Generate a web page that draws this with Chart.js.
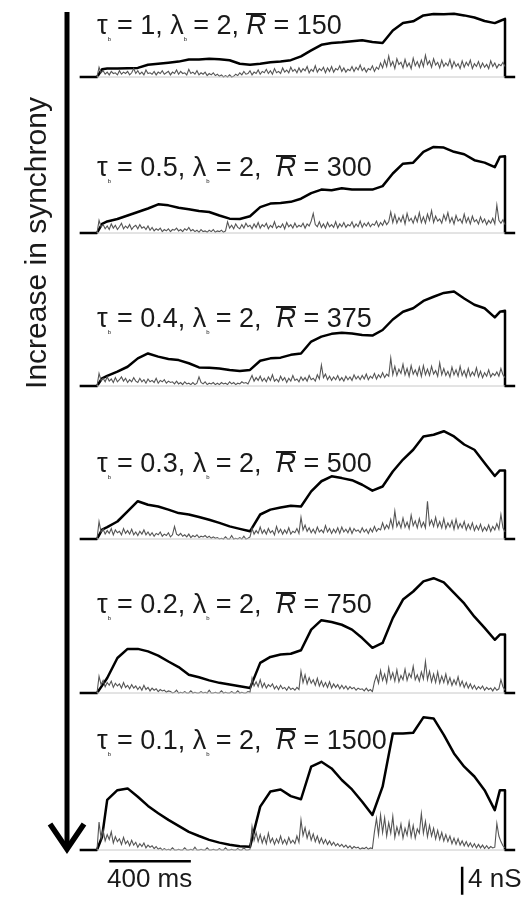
<!DOCTYPE html>
<html>
<head>
<meta charset="utf-8">
<script src="https://cdn.jsdelivr.net/npm/chart.js@4.4.1/dist/chart.umd.min.js"></script>
<style>
  body { margin: 0; background: #fff; }
  #page { position: relative; width: 530px; height: 897px; overflow: hidden; font-family: "Liberation Sans", Arial, sans-serif; color: #1a1a1a; }
  .panel { position: absolute; left: 0; width: 530px; height: 250px; }
  .lbl { position: absolute; left: 97px; font-size: 27px; line-height: 27px; white-space: nowrap; }
  .lbl sub { font-size: 6px; vertical-align: -7px; margin-right: 6px; }
  .rbar { display: inline-block; font-style: italic; border-top: 2.5px solid #1a1a1a; line-height: 20px; }
  .side { position: absolute; left: 0; width: 300px; height: 30px; font-size: 30px; line-height: 30px; text-align: center; transform-origin: center; }
  .bartxt { position: absolute; font-size: 26px; line-height: 26px; white-space: nowrap; }
</style>
</head>
<body>
<div id="page">
  <svg width="100" height="897" style="position:absolute;left:0;top:0">
    <line x1="67" y1="12" x2="67" y2="846" stroke="#000" stroke-width="5"/>
    <polyline points="50,824 67,849 84,824" fill="none" stroke="#000" stroke-width="5.5"/>
  </svg>
  <div class="side" id="sideText">Increase in synchrony</div>
</div>
<script>
// time points (ms) of the conductance envelope (black)
const timeMs = [0, 25, 50, 100, 150, 200, 250, 300, 350, 400, 450, 500, 550, 600, 650, 700, 750,
  800, 850, 900, 950, 1000, 1050, 1100, 1150, 1200, 1250, 1300, 1350, 1400, 1450, 1500, 1550,
  1600, 1650, 1700, 1750, 1800, 1850, 1900, 1950, 1975, 2000];

// the noisy trace (grey) is sampled every 10 ms from 0 to 2000 ms
const graySampleMs = 10;

const tauB = ['1', '0.5', '0.4', '0.3', '0.2', '0.1'];
const lambdaB = ['2', '2', '2', '2', '2', '2'];
const rBar = ['150', '300', '375', '500', '750', '1500'];

// envelope conductance, nS
const black1 = [0, 1.1, 1.2, 1.2, 1.25, 1.3, 1.75, 1.9, 2.05, 2.2, 2.5, 2.5, 2.6, 2.55, 2.4, 1.9, 1.75, 1.9, 2.1, 2.2, 2.4,
  2.95, 3.8, 4.6, 4.85, 4.95, 5.1, 5.25, 5.0, 4.85, 6.65, 7.7, 7.95, 8.8, 9.0, 8.95, 9.05, 8.8, 8.5, 8.0, 7.7, 8.0, 8.3];
const black2 = [0, 1.3, 1.65, 2.0, 2.5, 3.0, 3.5, 4.1, 3.95, 3.6, 3.4, 3.15, 3.0, 2.5, 2.05, 2.0, 2.4, 3.7, 4.2, 4.3, 4.45,
  4.9, 5.7, 6.2, 6.1, 6.4, 6.2, 6.2, 6.2, 6.7, 8.5, 9.9, 10.05, 11.6, 12.3, 12.2, 11.6, 11.25, 10.4, 10.05, 9.4, 10.9, 10.95];
const black3 = [0, 1.1, 1.45, 2.05, 2.75, 3.95, 4.65, 4.2, 3.85, 3.7, 3.25, 2.65, 2.6, 2.5, 2.3, 2.15, 2.3, 3.6, 3.95, 4.05, 4.45,
  4.65, 6.35, 7.05, 7.45, 7.6, 7.5, 7.3, 7.2, 8.0, 9.5, 10.6, 11.1, 12.15, 12.75, 13.3, 13.5, 12.5, 11.6, 11.1, 9.8, 10.6, 10.75];
const black4 = [0, 1.35, 1.7, 2.5, 3.95, 5.4, 4.9, 4.65, 4.2, 3.7, 3.5, 3.15, 2.75, 2.3, 1.8, 1.45, 1.1, 3.5, 4.2, 4.5, 4.75,
  4.65, 6.8, 8.25, 8.95, 8.7, 8.4, 7.75, 6.9, 7.5, 9.65, 11.35, 12.75, 14.65, 14.9, 15.4, 14.65, 13.5, 12.75, 10.85, 9.0, 9.8, 9.8];
const black5 = [0, 1.05, 2.15, 5.0, 6.3, 6.3, 5.95, 5.35, 4.5, 3.7, 2.6, 2.25, 1.8, 1.45, 1.2, 0.95, 0.7, 4.3, 5.15, 5.5, 5.6,
  6.1, 9.05, 10.4, 10.15, 9.75, 9.05, 7.85, 6.45, 7.15, 10.7, 13.35, 14.5, 15.95, 16.4, 15.8, 14.3, 12.8, 10.9, 9.3, 7.6, 8.35, 8.35];
const black6 = [0, 1.9, 7.15, 8.55, 8.8, 7.6, 6.3, 5.25, 4.3, 3.45, 2.6, 2.0, 1.45, 1.05, 0.75, 0.55, 0.45, 6.2, 8.35, 8.65, 7.7,
  7.25, 11.9, 12.6, 11.65, 10.0, 8.65, 6.9, 5.0, 9.05, 16.65, 16.65, 16.75, 18.95, 18.8, 16.45, 13.8, 11.9, 10.5, 8.55, 5.7, 8.55, 8.55];

// noisy conductance, nS (one row = 200 ms)
const gray1 = [
  0, 1.4, 0.6, 0.9, 0.4, 0.7, 0.3, 0.8, 0.5, 0.6, 0.3, 0.9, 0.4, 0.7, 0.5, 0.8, 0.3, 0.6, 1.2, 0.5,
  0.9, 0.4, 0.7, 0.3, 1.0, 0.5, 0.6, 0.4, 0.8, 0.3, 0.7, 0.5, 0.9, 0.4, 0.6, 0.8, 0.3, 0.7, 0.5, 1.0,
  0.4, 0.8, 0.5, 0.6, 0.3, 1.1, 0.5, 0.7, 0.4, 0.9, 0.3, 0.6, 0.4, 0.7, 0.2, 0.5, 0.3, 0.6, 0.2, 0.4,
  0.1, 0.3, 0, 0.2, 0, 0.3, 0, 0.1, 0.4, 0.2, 0.6, 0.3, 0.8, 0.4, 0.5, 0.9, 0.3, 0.7, 0.5, 1.0,
  0.4, 0.8, 0.6, 1.1, 0.5, 0.9, 0.4, 1.2, 0.6, 0.8, 0.5, 1.3, 0.7, 1.0, 0.6, 1.4, 0.8, 1.1, 0.6, 1.3,
  0.7, 1.2, 0.9, 1.5, 0.6, 1.1, 0.8, 1.6, 0.7, 1.2, 0.9, 1.4, 0.6, 1.3, 0.8, 1.5, 0.7, 1.2, 1.0, 1.6,
  0.8, 1.3, 0.7, 1.1, 0.9, 1.5, 0.8, 1.4, 1.0, 1.7, 0.9, 1.3, 0.7, 1.2, 1.0, 1.6, 0.8, 1.4, 1.1, 2.0,
  1.3, 2.4, 1.5, 3.0, 1.6, 2.2, 1.2, 2.6, 1.8, 2.1, 1.3, 2.5, 1.5, 2.0, 1.2, 2.7, 1.6, 2.2, 1.4, 2.4,
  1.5, 3.1, 1.8, 2.3, 1.4, 2.6, 1.7, 2.1, 1.3, 2.4, 1.5, 2.0, 1.6, 2.5, 1.3, 2.2, 1.5, 1.9, 1.2, 2.3,
  1.4, 2.1, 1.6, 2.4, 1.2, 1.9, 1.5, 2.2, 1.3, 2.0, 1.4, 1.8, 1.2, 2.3, 1.5, 2.0, 1.3, 1.8, 1.6, 2.1,
  1.5];
const gray2 = [
  0, 1.8, 0.9, 1.2, 0.6, 1.0, 0.5, 1.3, 0.7, 1.1, 0.5, 0.9, 1.4, 0.6, 1.0, 0.7, 1.2, 0.5, 0.9, 1.1,
  0.6, 1.2, 0.7, 0.9, 0.5, 1.0, 0.4, 0.8, 0.3, 0.6, 0.4, 0.7, 0.2, 0.5, 0.3, 0.6, 0.2, 0.5, 0.4, 0.7,
  0.3, 0.5, 0.2, 0.6, 0.4, 0.8, 0.3, 0.5, 0.2, 0.4, 0.1, 0.5, 0.2, 0.3, 0.1, 0.4, 0.2, 0.5, 0.1, 0.3,
  0.2, 0.4, 0.1, 0.3, 1.6, 0.7, 1.1, 0.6, 1.3, 0.8, 0.6, 1.2, 0.7, 1.4, 0.9, 1.1, 0.6, 1.3, 0.8, 1.5,
  0.7, 1.2, 0.9, 1.4, 0.6, 1.1, 0.8, 1.6, 0.7, 1.0, 0.8, 1.3, 0.6, 1.5, 0.9, 1.2, 0.7, 1.4, 0.8, 1.1,
  0.9, 1.4, 0.7, 1.3, 1.0, 1.7, 2.8, 1.2, 0.9, 1.6, 0.8, 1.3, 0.7, 1.5, 0.9, 1.2, 0.8, 1.6, 0.7, 1.3,
  0.9, 1.5, 0.8, 1.2, 1.0, 1.6, 0.8, 1.3, 0.9, 1.7, 0.8, 1.4, 1.0, 1.5, 0.9, 1.3, 1.1, 1.7, 0.9, 1.5,
  1.1, 1.8, 1.2, 1.6, 3.0, 1.5, 2.6, 1.4, 2.2, 1.6, 2.5, 1.3, 2.8, 1.7, 2.1, 1.4, 2.4, 1.6, 2.9, 1.5,
  2.3, 1.4, 2.7, 1.8, 3.2, 1.5, 2.4, 1.7, 2.0, 1.4, 2.6, 1.8, 2.9, 1.5, 2.2, 1.3, 2.5, 1.7, 2.0, 1.4,
  2.7, 1.5, 2.2, 1.3, 2.4, 1.6, 1.9, 1.3, 2.3, 1.5, 2.0, 1.2, 1.8, 1.4, 2.1, 1.3, 4.0, 1.8, 1.4, 1.9,
  1.2];
const gray3 = [
  0, 1.8, 0.8, 1.1, 0.6, 1.3, 0.7, 1.0, 0.5, 1.2, 0.6, 0.9, 1.3, 0.7, 1.1, 0.5, 0.9, 0.6, 1.2, 0.7,
  0.5, 1.1, 0.6, 0.9, 0.4, 1.0, 0.6, 0.8, 0.5, 1.1, 0.4, 0.8, 0.6, 0.9, 0.4, 0.7, 0.5, 0.6, 0.3, 0.7,
  0.3, 0.5, 0.2, 0.6, 0.3, 0.4, 0.2, 0.5, 0.2, 0.4, 1.3, 0.5, 0.3, 0.6, 0.2, 0.4, 0.3, 0.5, 0.2, 0.4,
  0.2, 0.5, 0.3, 0.4, 0.2, 0.6, 0.3, 0.5, 0.2, 0.4, 0.3, 0.6, 0.4, 0.5, 0.3, 0.9, 1.5, 0.7, 1.2, 0.8,
  1.4, 0.7, 1.1, 0.6, 1.3, 0.8, 1.6, 0.7, 1.0, 0.6, 1.4, 0.8, 1.2, 0.5, 1.1, 0.7, 1.5, 0.8, 1.0, 0.6,
  1.3, 0.8, 1.2, 0.7, 1.5, 0.9, 1.1, 0.7, 1.6, 1.0, 3.0, 1.2, 1.7, 0.9, 1.4, 0.8, 1.3, 0.9, 1.5, 0.8,
  1.2, 0.7, 1.4, 0.9, 1.3, 0.8, 1.6, 1.0, 1.4, 0.9, 1.5, 1.0, 1.7, 0.9, 1.4, 1.1, 1.8, 1.0, 1.6, 1.2,
  1.9, 1.2, 1.7, 1.4, 4.0, 1.6, 2.8, 1.5, 2.4, 1.8, 3.1, 1.6, 2.5, 1.4, 2.9, 1.7, 2.3, 1.5, 2.7, 1.4,
  2.9, 1.6, 2.4, 1.5, 2.8, 1.7, 2.2, 1.4, 3.3, 1.6, 2.5, 1.5, 2.1, 1.3, 2.7, 1.6, 2.3, 1.4, 2.8, 1.5,
  2.2, 1.3, 2.5, 1.4, 2.0, 1.5, 2.6, 1.3, 2.1, 1.2, 1.9, 1.4, 2.3, 1.3, 1.8, 1.5, 2.0, 1.4, 2.5, 1.6,
  1.2];
const gray4 = [
  0, 2.5, 1.0, 1.4, 0.7, 1.2, 0.8, 1.5, 0.6, 1.3, 0.9, 1.1, 0.6, 1.5, 0.8, 1.2, 0.7, 1.4, 0.6, 1.0,
  0.5, 1.1, 0.7, 1.3, 0.6, 1.0, 0.5, 0.9, 0.4, 0.8, 0.6, 1.0, 0.4, 0.7, 0.5, 0.9, 0.3, 0.6, 1.8, 0.7,
  0.5, 0.8, 0.4, 0.6, 0.3, 0.7, 0.2, 0.5, 0.3, 0.6, 0.2, 0.4, 0.3, 0.5, 0.2, 0.4, 0.1, 0.3, 0.1, 0.2,
  0, 0.1, 0, 0.3, 0, 0, 0.5, 0, 0.1, 0, 0.2, 0, 0.4, 0, 0.1, 0.3, 1.5, 0.7, 1.2, 0.8,
  1.7, 0.8, 1.3, 0.7, 1.5, 0.9, 1.2, 0.6, 1.8, 0.9, 1.4, 0.7, 1.3, 0.8, 1.6, 0.7, 1.1, 0.9, 1.5, 0.8,
  3.1, 1.3, 2.0, 1.1, 1.6, 0.9, 1.4, 0.8, 1.7, 1.0, 1.3, 0.9, 1.9, 1.0, 1.5, 0.8, 1.4, 0.9, 1.6, 0.8,
  1.7, 1.0, 1.4, 0.9, 1.6, 0.8, 1.5, 1.1, 1.3, 0.9, 1.6, 1.0, 1.4, 0.8, 1.5, 1.0, 1.8, 1.1, 1.5, 1.3,
  2.3, 1.4, 2.0, 1.5, 2.8, 1.6, 4.0, 1.8, 2.5, 1.6, 3.0, 1.7, 2.4, 1.5, 3.4, 1.9, 2.6, 1.6, 2.9, 1.7,
  2.4, 1.6, 5.4, 2.0, 2.7, 1.8, 3.1, 1.7, 2.5, 1.6, 2.9, 1.5, 2.3, 1.7, 2.6, 1.4, 2.8, 1.5, 2.2, 1.6,
  2.5, 1.3, 2.1, 1.4, 2.3, 1.2, 1.9, 1.3, 2.1, 1.1, 1.7, 1.2, 2.0, 1.1, 1.8, 1.3, 2.2, 1.4, 3.5, 1.6,
  1.0];
const gray5 = [
  0, 2.4, 1.2, 1.8, 0.9, 1.5, 1.1, 1.7, 0.8, 1.4, 1.0, 1.3, 0.7, 1.5, 0.8, 1.1, 0.6, 1.2, 0.7, 1.0,
  0.5, 0.9, 0.4, 1.1, 0.5, 0.8, 0.3, 0.7, 0.4, 0.6, 0.2, 0.5, 0.3, 0.4, 0.1, 0.3, 0.2, 0, 0.1, 0.4,
  0, 0.1, 0, 0.2, 0, 0, 0.3, 0, 0.1, 0, 0, 0.2, 0, 0.1, 0, 0.4, 0, 0, 0.1, 0,
  0, 0.3, 0, 0.1, 0, 0, 0.2, 0, 0, 0.3, 0, 0.1, 0, 0, 0.2, 0.1, 2.1, 1.0, 1.6, 0.9,
  1.9, 0.8, 1.4, 0.7, 1.2, 0.9, 1.3, 0.6, 1.0, 0.5, 1.1, 0.6, 0.8, 0.4, 0.9, 0.5, 0.7, 0.4, 0.8, 0.5,
  3.1, 1.5, 2.6, 1.3, 2.2, 1.4, 1.9, 1.1, 2.1, 1.0, 1.7, 0.9, 1.5, 0.8, 1.6, 0.7, 1.3, 0.8, 1.2, 0.6,
  1.1, 0.6, 1.0, 0.5, 0.9, 0.6, 0.8, 0.4, 0.7, 0.5, 0.6, 0.3, 0.7, 0.3, 0.5, 0.2, 1.6, 2.5, 1.4, 3.2,
  1.8, 2.7, 1.5, 3.6, 2.0, 2.9, 1.7, 3.3, 1.6, 2.5, 1.9, 3.4, 1.8, 2.8, 2.2, 3.8, 1.9, 2.6, 1.7, 3.0,
  2.0, 4.5, 1.9, 3.1, 1.6, 2.7, 1.5, 3.0, 1.4, 2.4, 1.5, 2.7, 1.3, 2.2, 1.1, 1.9, 1.2, 2.3, 1.0, 1.7,
  0.8, 1.5, 0.7, 1.3, 0.6, 1.1, 0.5, 0.9, 0.6, 1.0, 0.4, 0.8, 0.5, 0.7, 0.3, 0.8, 0.4, 0.6, 1.9, 0.9,
  0.4];
const gray6 = [
  0, 4.0, 1.6, 2.8, 1.3, 2.2, 1.5, 2.6, 1.0, 1.9, 1.2, 1.6, 0.8, 1.8, 0.9, 1.3, 0.6, 1.4, 0.7, 1.1,
  0.4, 0.9, 0.5, 1.0, 0.3, 0.7, 0.4, 0.6, 0.2, 0.5, 0.1, 0.3, 0, 0.2, 0, 0.1, 0, 0.3, 0, 0,
  0.1, 0, 0, 0.3, 0, 0, 0.1, 0, 0.4, 0, 0, 0.1, 0, 0, 0.3, 0, 0, 0.1, 0, 0,
  0.2, 0, 0, 0.3, 0, 0, 0.1, 0, 0, 0.2, 0, 0, 0.3, 0, 0, 0.1, 3.3, 1.4, 2.5, 1.2,
  2.2, 1.0, 1.9, 0.9, 2.4, 1.1, 1.7, 0.8, 1.6, 1.0, 2.0, 0.9, 1.5, 0.8, 1.8, 1.0, 1.4, 0.9, 2.0, 1.1,
  4.3, 2.1, 3.2, 1.7, 2.7, 1.4, 2.3, 1.2, 2.0, 1.0, 1.7, 0.9, 1.5, 0.8, 1.3, 0.7, 1.1, 0.6, 0.9, 0.5,
  0.8, 0.4, 0.7, 0.3, 0.6, 0.2, 0.5, 0.3, 0.4, 0.1, 0.3, 0.2, 0.4, 0.1, 0.3, 0.2, 2.6, 4.5, 2.2, 5.0,
  2.5, 4.6, 2.0, 3.9, 2.4, 4.8, 1.8, 3.3, 2.2, 3.7, 1.7, 3.1, 2.1, 4.0, 1.9, 3.5, 1.7, 3.0, 2.4, 5.2,
  2.4, 4.1, 1.9, 3.5, 2.0, 3.1, 1.6, 2.8, 1.5, 2.5, 1.3, 2.2, 1.2, 2.0, 0.9, 1.7, 0.8, 1.6, 0.7, 1.3,
  0.6, 1.2, 0.5, 1.0, 0.4, 0.9, 0.3, 0.8, 0.3, 0.7, 0.2, 0.6, 0.2, 0.5, 0.3, 0.4, 3.8, 2.0, 1.2, 0.6,
  0.3];

const blackSeries = [black1, black2, black3, black4, black5, black6];
const graySeries = [gray1, gray2, gray3, gray4, gray5, gray6];

// stimulus window and scale bars
const preMs = -85, stimEndMs = 2000, postMs = 2050;
const timeBarMs = [60, 460];     // 400 ms
const timeBarNs = -1.6;
const condBarMs = 1790;
const condBarNs = [-2.4, -6.4];  // 4 nS

// layout (px)
const baselines = [77, 233, 386, 539, 693, 850];
const labelBaselines = [35, 177, 328, 473, 614, 750];
const pxPerNs = 7, baseOffset = 193, canvasH = 250;
const pxPerMs = 0.204, zeroX = 97;

const page = document.getElementById('page');

const side = document.getElementById('sideText');
side.style.top = (243 - 15) + 'px';
side.style.left = (36 - 150) + 'px';
side.style.transform = 'rotate(-90deg)';

const scaleBars = {
  id: 'scaleBars',
  afterDatasetsDraw(chart) {
    const { ctx, scales: { x, y } } = chart;
    ctx.save();
    ctx.strokeStyle = '#000';
    ctx.lineWidth = 2.5;
    ctx.beginPath();
    ctx.moveTo(x.getPixelForValue(timeBarMs[0]), y.getPixelForValue(timeBarNs));
    ctx.lineTo(x.getPixelForValue(timeBarMs[1]), y.getPixelForValue(timeBarNs));
    ctx.moveTo(x.getPixelForValue(condBarMs), y.getPixelForValue(condBarNs[0]));
    ctx.lineTo(x.getPixelForValue(condBarMs), y.getPixelForValue(condBarNs[1]));
    ctx.stroke();
    ctx.restore();
  }
};

for (let i = 0; i < 6; i++) {
  const wrap = document.createElement('div');
  wrap.className = 'panel';
  wrap.style.top = (baselines[i] - baseOffset) + 'px';
  const canvas = document.createElement('canvas');
  canvas.width = 530;
  canvas.height = canvasH;
  wrap.appendChild(canvas);
  page.insertBefore(wrap, page.firstChild);

  const env = [{ x: preMs, y: 0 }];
  timeMs.forEach((t, k) => env.push({ x: t, y: blackSeries[i][k] }));
  env.push({ x: stimEndMs, y: 0 }, { x: postMs, y: 0 });

  const noisy = graySeries[i].map((v, k) => ({ x: k * graySampleMs, y: v }));

  new Chart(canvas.getContext('2d'), {
    type: 'line',
    data: {
      datasets: [
        { data: [{ x: 0, y: 0 }, { x: stimEndMs, y: 0 }], borderColor: '#c8c8c8', borderWidth: 1, pointRadius: 0 },
        { data: noisy, borderColor: '#555', borderWidth: 1.1, pointRadius: 0 },
        { data: env, borderColor: '#000', borderWidth: 2.5, pointRadius: 0, borderJoinStyle: 'round' }
      ]
    },
    options: {
      responsive: false,
      animation: false,
      events: [],
      layout: { padding: 0 },
      plugins: { legend: { display: false }, tooltip: { enabled: false } },
      elements: { line: { tension: 0 } },
      scales: {
        x: { type: 'linear', display: false, min: -zeroX / pxPerMs, max: (530 - zeroX) / pxPerMs },
        y: { display: false, min: -(canvasH - baseOffset) / pxPerNs, max: baseOffset / pxPerNs }
      }
    },
    plugins: i === 5 ? [scaleBars] : []
  });

  const lbl = document.createElement('div');
  lbl.className = 'lbl';
  lbl.style.top = (labelBaselines[i] - 23) + 'px';
  const gap = i === 0 ? ' ' : '&nbsp; ';
  lbl.innerHTML = '\u03C4<sub>b</sub>= ' + tauB[i] + ', \u03BB<sub>b</sub>= ' + lambdaB[i] + ',' + gap +
    '<span class="rbar">R</span> = ' + rBar[i];
  page.appendChild(lbl);
}

const t1 = document.createElement('div');
t1.className = 'bartxt';
t1.style.left = '107px';
t1.style.top = (887 - 22) + 'px';
t1.textContent = '400 ms';
page.appendChild(t1);

const t2 = document.createElement('div');
t2.className = 'bartxt';
t2.style.left = '468px';
t2.style.top = (887 - 22) + 'px';
t2.textContent = '4 nS';
page.appendChild(t2);
</script>
</body>
</html>
